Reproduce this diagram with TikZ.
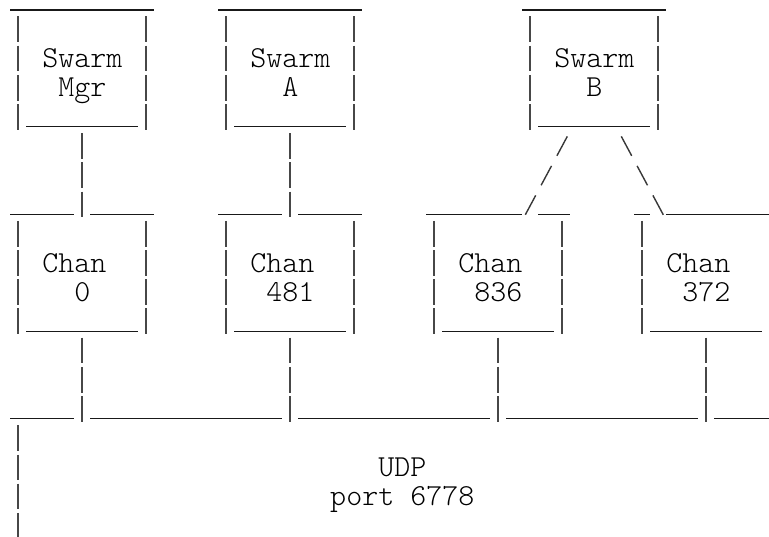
\documentclass[tikz,border=0pt]{standalone}
\usetikzlibrary{calc}
\tikzset{
  under/.style={line width=1.3pt,black!90},
  bar/.style={line width=2.2pt,black!72,dash pattern=on 25.7pt off 3.5pt},
  slash/.style={line width=1.4pt,black!78,dash pattern=on 22pt off 11.45pt},
  ascii/.style={font=\fontsize{30.5}{29.2}\selectfont\ttfamily\fontseries{l}\selectfont,align=center,inner sep=0pt,outer sep=0pt},
  box/.style={ascii,minimum width=128pt,minimum height=116.8pt,text height=60pt,text depth=2.8pt}
}
\begin{document}
\begin{tikzpicture}[x=1pt,y=-1pt]
\useasboundingbox (0,0) rectangle (769,537);
\clip (0,0) rectangle (769,537);
\foreach \n/\c/\r/\t in {mgr/5/0/{Swarm\\Mgr},swA/18/0/{Swarm\\A},swB/37/0/{Swarm\\B},
    ch0/5/7/{Chan\phantom{n}\\0},ch481/18/7/{Chan\phantom{n}\\481},
    ch836/31/7/{Chan\phantom{n}\\836},ch372/44/7/{Chan\phantom{n}\\372}}
  \node[box] (\n) at ({16*\c+2.3},{29.2*\r+68.4}) {\t};
\foreach \n in {mgr,swA,swB,ch0,ch481,ch836,ch372} {
  \draw[bar] ($(\n.north west)+(0,6.5)$) -- ($(\n.south west)+(0,3)$);
  \draw[bar] ($(\n.north east)+(0,6.5)$) -- ($(\n.south east)+(0,3)$);
  \draw[under] ($(\n.south west)+(8,0)$) -- ($(\n.south east)+(-8,0)$);
}
\foreach \n in {mgr,swA,swB}
  \draw[under] ($(\n.north west)+(-8,0)$) -- ($(\n.north east)+(8,0)$);
\foreach \n/\g in {ch0/0,ch481/0,ch836/2,ch372/-3} {
  \draw[under] ($(\n.north west)+(-8,0)$) -- ($(\n.north)+({16*\g-8},0)$);
  \draw[under] ($(\n.north)+({16*\g+8},0)$) -- ($(\n.north east)+(8,0)$);
}
\draw[bar] ($(mgr.south)+(0,6.5)$) -- ($(ch0.north)+(0,3)$);
\draw[bar] ($(swA.south)+(0,6.5)$) -- ($(ch481.north)+(0,3)$);
\draw[slash] ($(swB.south)+(-27,9.6)$) -- ($(ch836.north)+(27,0.4)$);
\draw[slash] ($(swB.south)+(27,9.6)$) -- ($(ch372.north)+(-43,0.4)$);
\coordinate (bus) at (10.3,418.8);
\foreach \n in {ch0,ch481,ch836,ch372}
  \draw[bar] ($(\n.south)+(0,6.5)$) -- ($(\n.south |- bus)+(0,3)$);
\draw[under] (bus) -- ($(ch0.south |- bus)+(-8,0)$)
  ($(ch0.south |- bus)+(8,0)$) -- ($(ch481.south |- bus)+(-8,0)$)
  ($(ch481.south |- bus)+(8,0)$) -- ($(ch836.south |- bus)+(-8,0)$)
  ($(ch836.south |- bus)+(8,0)$) -- ($(ch372.south |- bus)+(-8,0)$)
  ($(ch372.south |- bus)+(8,0)$) -- ++(80,0);
\draw[bar] ($(bus)+(8,6.5)$) -- ++(0,130);
\node[ascii,anchor=base] (udp) at (402.3,505.8) {UDP\\port 6778};
\end{tikzpicture}
\end{document}
